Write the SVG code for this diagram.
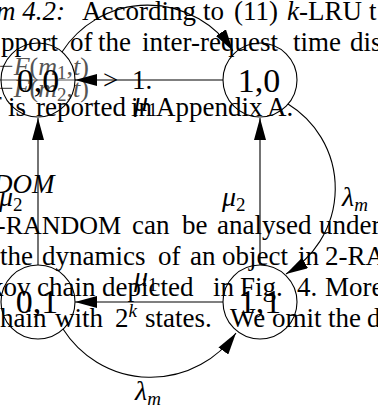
<svg xmlns="http://www.w3.org/2000/svg" width="378" height="410" viewBox="0 0 378 410" font-family="'Liberation Serif', 'Times New Roman', serif">
<style>
text{font-family:'Liberation Serif','Times New Roman',serif}
.t{font-size:27px;fill:#000}
.i{font-style:italic}
.f{fill:#555;font-size:26px}
.node circle{fill:none;stroke:#000;stroke-width:1.1}
.node text{font-size:34px;text-anchor:middle;fill:#000}
.edge{fill:none;stroke:#000;stroke-width:1.1;marker-end:url(#ah)}
.lab{font-size:28px;fill:#000}
.sub{font-size:19px}
</style>
<defs>
<marker id="ah" markerUnits="userSpaceOnUse" markerWidth="22" markerHeight="12" refX="22" refY="6" orient="auto"><path d="M0,0 L22,6 L0,12 Z" fill="#000"/></marker>
</defs>
<g id="page-text">
<text class="t" y="20"><tspan class="i" x="-4">m 4.2:</tspan><tspan x="82">According</tspan><tspan x="203">to</tspan><tspan x="234">(11)</tspan><tspan class="i" x="287">k</tspan><tspan>-LRU</tspan><tspan x="369">t</tspan></text>
<text class="t" y="51"><tspan x="1">pport</tspan><tspan x="70">of</tspan><tspan x="98">the</tspan><tspan x="142">inter-request</tspan><tspan x="293">time</tspan><tspan x="350">dis</tspan></text>
<text class="t f" x="-1" y="75">−<tspan class="i">F</tspan>(<tspan class="i">m</tspan><tspan class="sub" dy="4">1</tspan><tspan dy="-4">,</tspan><tspan class="i">t</tspan>)</text>
<line x1="-2" y1="80" x2="76" y2="80" stroke="#555" stroke-width="1.1"/>
<text class="t f" x="-1" y="97">−<tspan class="i">F</tspan>(<tspan class="i">m</tspan><tspan class="sub" dy="4">2</tspan><tspan dy="-4">,</tspan><tspan class="i">t</tspan>)</text>
<text class="t" y="89"><tspan x="103">&gt;</tspan><tspan x="132">1.</tspan></text>
<text class="t" y="116" font-size="26"><tspan class="i" x="-9">f</tspan><tspan x="8">is</tspan><tspan x="36">reported</tspan><tspan x="131">in</tspan><tspan x="156">Appendix</tspan><tspan x="267">A.</tspan></text>
<text class="t i" x="-7" y="193">DOM</text>
<text class="t" y="234"><tspan x="-3" font-size="26">-RANDOM</tspan><tspan x="132">can</tspan><tspan x="182">be</tspan><tspan x="217">analysed</tspan><tspan x="319">under</tspan></text>
<text class="t" y="265"><tspan x="0">the</tspan><tspan x="42">dynamics</tspan><tspan x="158">of</tspan><tspan x="190">an</tspan><tspan x="222">object</tspan><tspan x="298">in</tspan><tspan x="325">2-RA</tspan></text>
<text class="t" y="296"><tspan x="-10">kov</tspan><tspan x="37">chain</tspan><tspan x="102">depicted</tspan><tspan x="213">in</tspan><tspan x="240">Fig.</tspan><tspan x="297">4.</tspan><tspan x="325">More</tspan></text>
<text class="t" y="327"><tspan x="0">hain</tspan><tspan x="55">with</tspan><tspan x="115">2</tspan><tspan class="i sub" dy="-10">k</tspan><tspan x="145" dy="10">states.</tspan><tspan x="230">We</tspan><tspan x="272">omit</tspan><tspan x="328">the</tspan><tspan x="367">de</tspan></text>
</g>
<g id="n00" class="node"><circle cx="38" cy="80" r="37"/><text x="38" y="92">0,0</text></g>
<g id="n10" class="node"><circle cx="260" cy="80" r="37"/><text x="259" y="92">1,0</text></g>
<g id="n01" class="node"><circle cx="38" cy="302" r="37"/><text x="37" y="313">0,1</text></g>
<g id="n11" class="node"><circle cx="260" cy="302" r="37"/><text x="260" y="313">1,1</text></g>
<g id="connectors">
<path class="edge" d="M223,80 L75,80"/>
<path class="edge" d="M223,302 L75,302"/>
<path class="edge" d="M38,265 L38,118"/>
<path class="edge" d="M260,265 L260,118"/>
<path class="edge" d="M62,52 A102,102 0 0 1 233,51"/>
<path class="edge" d="M288,104 A99,99 0 0 1 286,274"/>
<path class="edge" d="M63,329 A104,104 0 0 0 236,333"/>
</g>
<g id="edge-labels">
<text class="lab" x="134" y="111"><tspan class="i">μ</tspan><tspan class="sub" dy="5">1</tspan></text>
<text class="lab" x="134" y="286"><tspan class="i">μ</tspan><tspan class="sub" dy="5">1</tspan></text>
<text class="lab" x="-1" y="206"><tspan class="i">μ</tspan><tspan class="sub" dy="5">2</tspan></text>
<text class="lab" x="222" y="206"><tspan class="i">μ</tspan><tspan class="sub" dy="5">2</tspan></text>
<text class="lab" x="342" y="206"><tspan class="i">λ</tspan><tspan class="i sub" dy="5">m</tspan></text>
<text class="lab" x="135" y="400"><tspan class="i">λ</tspan><tspan class="i sub" dy="5">m</tspan></text>
</g>
</svg>
